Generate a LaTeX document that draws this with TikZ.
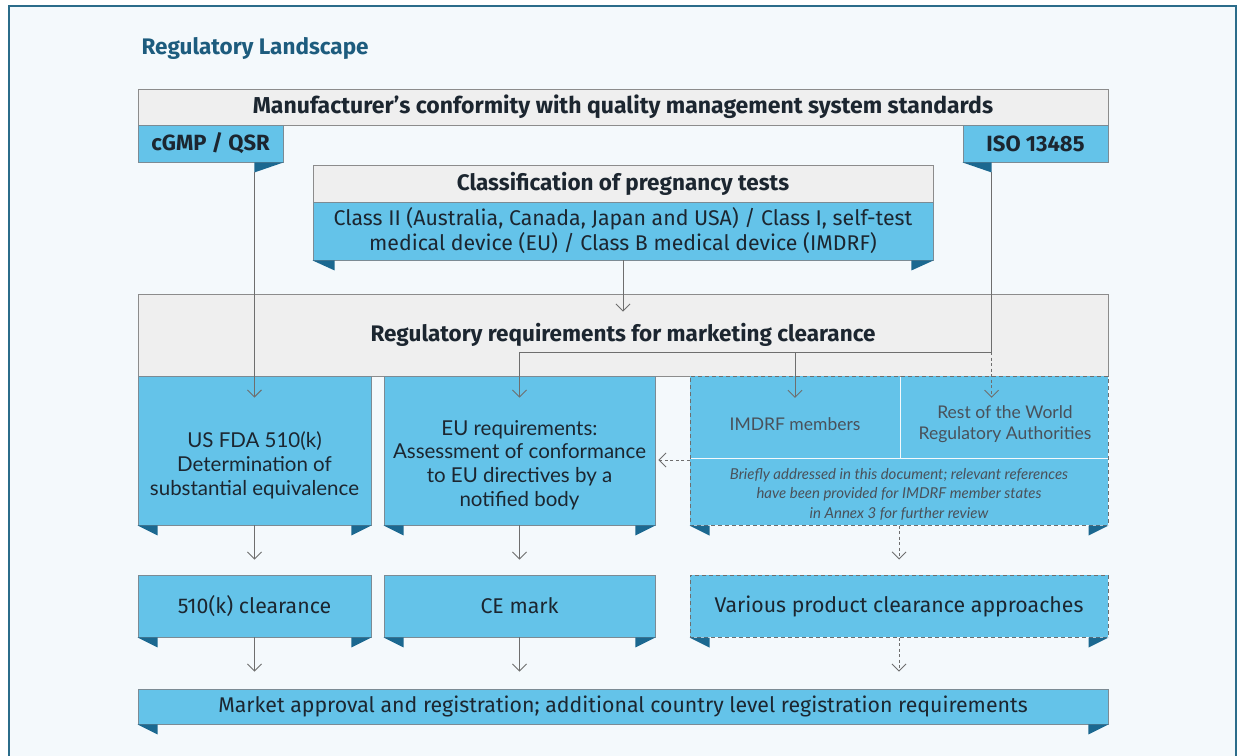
\documentclass[tikz,border=0pt]{standalone}
\usepackage{fontspec}
\setmainfont{Fira Sans}
\newfontfamily\latofont{Lato}
\usetikzlibrary{arrows.meta,calc}
\definecolor{bgc}{HTML}{F4F9FC}
\definecolor{framec}{HTML}{2B6C8A}
\definecolor{titlec}{HTML}{1D5C7E}
\definecolor{bluec}{HTML}{64C3E9}
\definecolor{foldc}{HTML}{1B6890}
\definecolor{grayf}{HTML}{EFEFEF}
\definecolor{grayl}{HTML}{8C8C8C}
\definecolor{boxl}{HTML}{7C8B94}
\definecolor{txtc}{HTML}{1C2630}
\definecolor{linc}{HTML}{6E6E6E}
\tikzset{
  gbox/.style={draw=grayl, fill=grayf, line width=0.9pt, inner sep=0pt, text=txtc,
    font=\bfseries\fontsize{22.5}{26}\selectfont},
  bbox/.style={draw=boxl, fill=bluec, line width=0.9pt, inner sep=0pt, text=txtc,
    align=center, font=\fontsize{21.3}{25}\selectfont},
  bfill/.style={fill=bluec, inner sep=0pt},
  dbord/.style={draw=linc, line width=1pt, dash pattern=on 4pt off 3pt, inner sep=0pt},
  ltxt/.style={text=txtc, align=center, font=\latofont\fontsize{20.5}{23.8}\selectfont},
  conn/.style={draw=linc, line width=0.9pt},
  dconn/.style={draw=linc, line width=0.9pt, dash pattern=on 3pt off 2.5pt},
  tip/.style={-{Straight Barb[length=7pt,width=14pt,line width=0.9pt]}},
}
\newcommand\foldl[2][20]{\fill[foldc] (#2.south west) -- ++(#1,0) -- ++(0,10) -- cycle;}
\newcommand\foldr[2][20]{\fill[foldc] (#2.south east) -- ++(-#1,0) -- ++(0,10) -- cycle;}
\begin{document}
\begin{tikzpicture}[x=1pt,y=-1pt]
\useasboundingbox (0,0) rectangle (1238,755);
\clip (0,0) rectangle (1238,755);
\fill[white] (0,0) rectangle (1238,755);
\draw[framec, line width=2pt, fill=bgc] (9,6) rectangle (1236,790);

\node[anchor=west, text=titlec, font=\bfseries\fontsize{22.5}{26}\selectfont] (title) at (138,48) {Regulatory Landscape};

% top header
\node[gbox, font=\bfseries\fontsize{23}{26}\selectfont, minimum width=970, minimum height=36] (qms) at (623,107) {Manufacturer’s conformity with quality management system standards};
\node[bbox, font=\bfseries\fontsize{22}{26}\selectfont, minimum width=145, minimum height=37] (cgmp) at (210.5,143.5) {cGMP / QSR};
\node[bbox, font=\bfseries\fontsize{22}{26}\selectfont, minimum width=145, minimum height=37] (iso) at (1035.5,143.5) {ISO 13485};
\foldr[29]{cgmp}
\foldl[29]{iso}

% classification
\node[gbox, minimum width=620, minimum height=37] (clsh) at (623,184) {Classification of pregnancy tests};
\node[bbox, minimum width=620, minimum height=58] (clsb) at (623,231) {Class II (Australia, Canada, Japan and USA) / Class I, self-test\\medical device (EU) / Class B medical device (IMDRF)};
\foldl[22]{clsb}
\foldr[22]{clsb}

% regulatory requirements
\node[gbox, minimum width=970, minimum height=82] (reg) at (623,335) {Regulatory requirements for marketing clearance};

% lower row
\node[bbox, minimum width=233, minimum height=149] (fda) at (254.5,450.5) {};
\node[ltxt] (fdat) at (254.5,465) {US FDA 510(k)\\Determination of\\substantial equivalence};
\node[bbox, minimum width=271, minimum height=149] (eu) at (519.5,450.5) {};
\node[ltxt] (eut) at (519.5,465) {EU requirements:\\Assessment of conformance\\to EU directives by a\\notified body};
\foldl{fda}\foldr{fda}\foldl{eu}\foldr{eu}

\node[bfill, minimum width=210, minimum height=82] (imdrf) at (795,417) {};
\node[bfill, minimum width=207, minimum height=82] (row) at (1004.5,417) {};
\node[bfill, minimum width=418, minimum height=66] (note) at (899,492) {};
\node[dbord, minimum width=418, minimum height=149] (grp) at (899,450.5) {};
\foldl{grp}\foldr{grp}
\node[ltxt, text=txtc!80, font=\latofont\fontsize{17.5}{21.5}\selectfont] (imdrft) at (795,424) {IMDRF members};
\node[ltxt, text=txtc!80, font=\latofont\fontsize{17.5}{21.5}\selectfont] (rowt) at (1005,424) {Rest of the World\\Regulatory Authorities};
\node[ltxt, text=txtc!80, font=\latofont\itshape\fontsize{15}{19.5}\selectfont] (notet) at (899,494) {Briefly addressed in this document; relevant references\\have been provided for IMDRF member states\\in Annex 3 for further review};

% second row
\node[bbox, minimum width=233, minimum height=62] (k510) at (254.5,606) {510(k) clearance};
\node[bbox, minimum width=271, minimum height=62] (ce) at (519.5,606) {CE mark};
\node[bbox, dbord, fill=bluec, minimum width=418, minimum height=62] (var) at (899,606) {Various product clearance approaches};
\foldl{k510}\foldr{k510}\foldl{ce}\foldr{ce}\foldl{var}\foldr{var}

% bottom
\node[bbox, minimum width=970, minimum height=35] (mkt) at (623,706.5) {Market approval and registration; additional country level registration requirements};
\foldl{mkt}\foldr{mkt}

% connectors
\coordinate (cg) at ($(cgmp.south east)+(-29,10)$);
\coordinate (is) at ($(iso.south west)+(29,10)$);
\coordinate (fdain) at ($(fda.north)+(0,22)$);
\coordinate (euin) at ($(eu.north)+(0,22)$);
\coordinate (imin) at ($(imdrf.north)+(0,22)$);
\coordinate (rowin) at ($(row.north)+(0,22)$);
\coordinate (bend) at (is |- 0,352);
\draw[conn,tip] (cg) -- (cg |- fdain);
\draw[conn,tip] (is) -- (bend) -| (euin);
\draw[conn,tip] (imin |- bend) -- (imin);
\draw[dconn,tip] (bend) -- (bend |- rowin);
\draw[conn,tip] (clsb.south) -- ($(reg.north)+(0,18)$);
\draw[dconn,tip] ($(grp.west)+(0,9.5)$) -- ($(eu.east)+(3,9.5)$);

\draw[conn,tip] (fda.south) -- ($(k510.north)+(0,-15)$);
\draw[conn,tip] (eu.south) -- ($(ce.north)+(0,-15)$);
\draw[dconn,tip] (grp.south) -- ($(var.north)+(0,-15)$);
\draw[conn,tip] (k510.south) -- ($(k510.south |- mkt.north)+(0,-17)$);
\draw[conn,tip] (ce.south) -- ($(ce.south |- mkt.north)+(0,-17)$);
\draw[dconn,tip] (var.south) -- ($(var.south |- mkt.north)+(0,-17)$);
\end{tikzpicture}
\end{document}
